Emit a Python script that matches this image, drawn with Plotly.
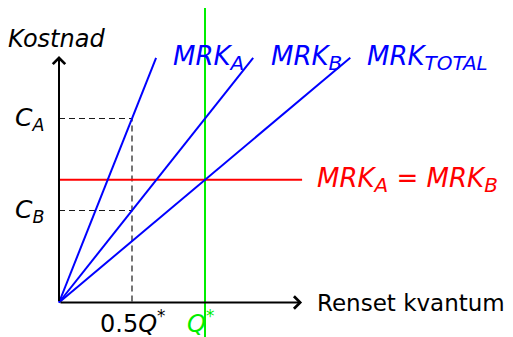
import plotly.graph_objects as go

# ---- data (abstract units: Q* = 2, C_B = 1, C_A = 2) ----
q_star = 2.0
half_q = 1.0
c_a = 2.0
c_b = 1.0
slope_a = 2.0            # MRK_A
slope_b = 1.0            # MRK_B
slope_total = 2.0 / 3.0  # MRK_TOTAL (horizontal sum)
mrk_equal = slope_total * q_star  # level where MRK_A = MRK_B
y_top = 2.66             # top of cost lines
x_axis_end = 3.33
y_axis_end = 2.68
green_y = [-0.5, 3.25]

line_names = ["MRK_A", "MRK_B", "MRK_TOTAL"]
slopes = [slope_a, slope_b, slope_total]

FONT = "DejaVu Sans"
BLUE = "#0000ff"
RED = "#ff0000"
GREEN = "#00ee00"

fig = go.Figure()

# dashed guide lines
DASH = dict(color="#1a1a1a", width=1.2, dash="6px,4px")
fig.add_trace(go.Scatter(x=[0, half_q, half_q], y=[c_a, c_a, 0], mode="lines",
                         line=DASH, hoverinfo="skip"))
fig.add_trace(go.Scatter(x=[0, half_q], y=[c_b, c_b], mode="lines",
                         line=DASH, hoverinfo="skip"))

# green Q* line
fig.add_trace(go.Scatter(x=[q_star, q_star], y=green_y, mode="lines",
                         line=dict(color=GREEN, width=2), hoverinfo="skip"))
# red horizontal
fig.add_trace(go.Scatter(x=[0, x_axis_end], y=[mrk_equal, mrk_equal], mode="lines",
                         line=dict(color=RED, width=2), hoverinfo="skip"))
# blue cost lines
for name, s in zip(line_names, slopes):
    fig.add_trace(go.Scatter(x=[0, y_top / s], y=[0, y_top], mode="lines", name=name,
                             line=dict(color=BLUE, width=2), hoverinfo="skip"))

# axes with arrows
for (hx, hy) in [(x_axis_end, 0), (0, y_axis_end)]:
    fig.add_annotation(x=hx, y=hy, ax=0, ay=0, xref="x", yref="y", axref="x", ayref="y",
                       showarrow=True, arrowhead=4, arrowsize=1.2, arrowwidth=2,
                       arrowcolor="black", text="")

def label(x, y, text, color="black", xanchor="center", size=24, yanchor="middle"):
    fig.add_annotation(x=x, y=y, xref="x", yref="y", text=text, showarrow=False,
                       xanchor=xanchor, yanchor=yanchor, borderpad=0,
                       font=dict(family=FONT, size=size, color=color))

def sub(t, px=20):
    return f"<sub><span style='font-size:{px}px'>{t}</span></sub>"

label(-0.03, 2.86, "<i>Kostnad</i>")
label(-0.40, c_a, "<i>C<sub>A</sub></i>", size=25)
label(-0.40, c_b, "<i>C<sub>B</sub></i>", size=25)
label(half_q, -0.21, "0.5<i>Q</i><sup>*</sup>", size=24)
label(1.94, -0.21, "<i>Q</i><sup>*</sup>", color=GREEN, size=24)
label(3.52, 0.0, "Renset kvantum", xanchor="left", size=23)
label(1.55, 2.66, "<i>MRK" + sub("A") + "</i>", color=BLUE, xanchor="left", size=26)
label(2.89, 2.66, "<i>MRK" + sub("B") + "</i>", color=BLUE, xanchor="left", size=26)
label(4.20, 2.66, "<i>MRK" + sub("TOTAL") + "</i>", color=BLUE, xanchor="left", size=26)
label(3.52, mrk_equal, "<i>MRK" + sub("A") + " = MRK" + sub("B") + "</i>",
      color=RED, xanchor="left", size=26)

# page has an 8px body margin: figure is 505x329 placed at (8, 8)
W, H = 505, 329
ox, oy = 51, 294.5   # origin in figure pixels
px_x, px_y = 73.0, 92.0
fig.update_layout(
    width=W, height=H, margin=dict(l=0, r=0, t=0, b=0),
    paper_bgcolor="white", plot_bgcolor="white", showlegend=False,
    xaxis=dict(range=[-ox / px_x, (W - ox) / px_x], visible=False, fixedrange=True),
    yaxis=dict(range=[-(H - oy) / px_y, oy / px_y], visible=False, fixedrange=True),
)

fig.write_html("out.html")
